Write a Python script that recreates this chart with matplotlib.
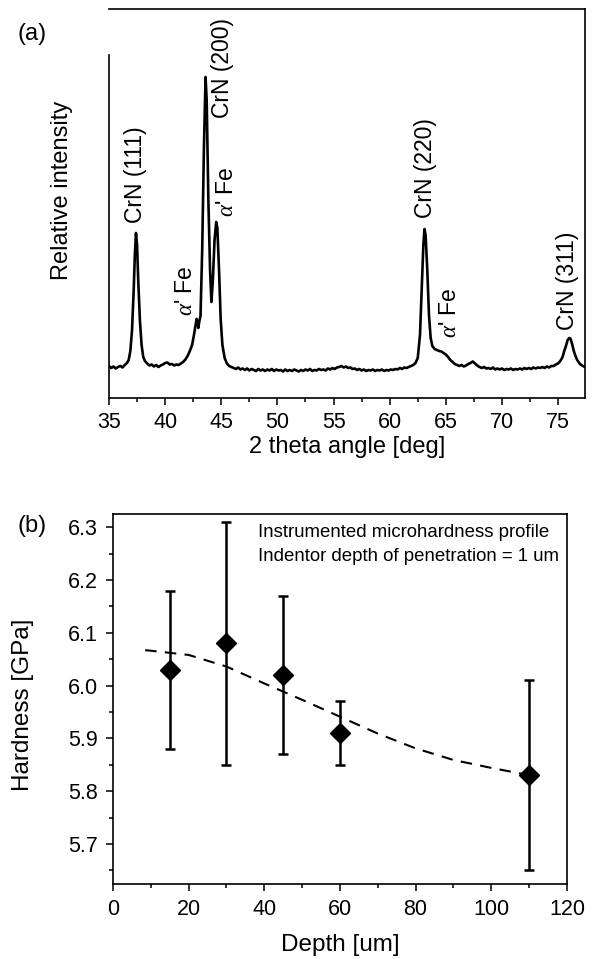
import matplotlib
matplotlib.use("Agg")
import matplotlib.pyplot as plt
from matplotlib.ticker import MultipleLocator

plt.rcParams["font.family"] = ["Liberation Sans", "DejaVu Sans"]
plt.rcParams["mathtext.fontset"] = "custom"
plt.rcParams["mathtext.rm"] = "Liberation Sans"
plt.rcParams["mathtext.it"] = "Liberation Serif:italic"

# (a) XRD pattern (arbitrary intensity units)
two_theta = [
    35.0, 35.2, 35.4, 35.6, 35.8, 36.0, 36.2, 36.4, 36.6,
    36.75, 36.9, 37.05, 37.2, 37.3, 37.4, 37.5, 37.6, 37.75, 37.9, 38.05, 38.2,
    38.4, 38.6, 38.8, 39.0, 39.2, 39.4, 39.6, 39.8, 40.0, 40.2, 40.4, 40.6, 40.8,
    41.0, 41.2, 41.4, 41.6, 41.8, 42.0, 42.2, 42.4, 42.55, 42.7, 42.8, 42.9,
    42.95, 43.05, 43.15, 43.3, 43.45, 43.6, 43.7, 43.85, 44.0, 44.12, 44.25,
    44.4, 44.55, 44.65, 44.8, 44.95, 45.1, 45.3, 45.5, 45.7, 45.9,
    46.1, 46.3, 46.5, 46.7, 46.9, 47.1, 47.3, 47.5, 47.7, 47.9, 48.1, 48.3,
    48.5, 48.7, 48.9, 49.1, 49.3, 49.5, 49.7, 49.9, 50.1, 50.3, 50.5, 50.7,
    50.9, 51.1, 51.3, 51.5, 51.7, 51.9, 52.1, 52.3, 52.5, 52.7, 52.9, 53.1,
    53.3, 53.5, 53.7, 53.9, 54.1, 54.3, 54.5, 54.7, 54.9, 55.1, 55.3, 55.5,
    55.7, 55.9, 56.1, 56.3, 56.5, 56.7, 56.9, 57.1, 57.3, 57.5, 57.7, 57.9,
    58.1, 58.3, 58.5, 58.7, 58.9, 59.1, 59.3, 59.5, 59.7, 59.9, 60.1, 60.3,
    60.5, 60.7, 60.9, 61.1, 61.3, 61.5, 61.7, 61.9, 62.1, 62.3,
    62.5, 62.7, 62.85, 63.0, 63.1, 63.2, 63.35, 63.5, 63.65, 63.8, 64.0, 64.2,
    64.4, 64.6, 64.8, 65.0, 65.2, 65.4, 65.6, 65.8, 66.0, 66.2, 66.4, 66.6,
    66.8, 67.0, 67.2, 67.4, 67.6, 67.8, 68.0, 68.2, 68.4, 68.6, 68.8, 69.0,
    69.2, 69.4, 69.6, 69.8, 70.0, 70.2, 70.4, 70.6, 70.8, 71.0, 71.2, 71.4,
    71.6, 71.8, 72.0, 72.2, 72.4, 72.6, 72.8, 73.0, 73.2, 73.4, 73.6, 73.8,
    74.0, 74.2, 74.4, 74.6, 74.8, 75.0, 75.2, 75.4, 75.55, 75.7, 75.85, 76.0,
    76.1, 76.25, 76.4, 76.55, 76.7, 76.85, 77.0, 77.2, 77.4,
]
intensity = [
    320, 300, 315, 295, 310, 320, 305, 330, 350,
    380, 470, 680, 1080, 1430, 1650, 1530, 1180, 780, 530, 410, 370,
    345, 325, 335, 315, 330, 310, 325, 335, 350, 355, 335, 340, 325,
    335, 330, 345, 360, 385, 420, 470, 530, 620, 720, 790, 760,
    700, 770, 820, 1480, 2480, 3210, 2980, 1980, 1280, 960, 1180,
    1580, 1760, 1700, 1280, 780, 530, 400, 345, 320, 310,
    300, 290, 305, 285, 295, 280, 295, 275, 290, 280, 270, 290,
    275, 285, 270, 285, 275, 290, 270, 285, 275, 280, 265, 285,
    270, 280, 270, 285, 275, 265, 280, 270, 285, 275, 290, 270,
    280, 275, 290, 280, 285, 275, 295, 285, 300, 290, 305, 310,
    320, 305, 315, 300, 305, 290, 295, 280, 290, 275, 285, 270,
    280, 275, 285, 270, 280, 275, 285, 270, 280, 275, 285, 280,
    290, 285, 300, 290, 305, 300, 310, 320, 330, 350,
    400, 630, 1080, 1530, 1690, 1630, 1280, 830, 600, 520, 490, 480,
    470, 465, 450, 435, 410, 380, 360, 340, 330, 320, 330, 315,
    325, 340, 350, 365, 345, 325, 310, 300, 310, 295, 300, 290,
    305, 285, 295, 285, 295, 280, 290, 285, 295, 280, 290, 285,
    295, 285, 300, 290, 300, 290, 305, 295, 305, 300, 310, 300,
    315, 305, 320, 320, 335, 345, 370, 410, 470, 520, 580, 600,
    595, 540, 470, 420, 380, 355, 335, 320, 310,
]

peak_labels = ["CrN (111)", r"$\alpha$' Fe", "CrN (200)", r"$\alpha$' Fe",
               "CrN (220)", r"$\alpha$' Fe", "CrN (311)"]
peak_label_x = [37.4, 41.8, 45.1, 45.5, 63.2, 65.3, 75.8]
peak_label_y = [1750, 820, 2800, 1810, 1800, 600, 680]

# (b) hardness profile
depth = [15, 30, 45, 60, 110]
hardness = [6.03, 6.08, 6.02, 5.91, 5.83]
err_low = [0.15, 0.23, 0.15, 0.06, 0.18]
err_high = [0.15, 0.23, 0.15, 0.06, 0.18]

trend_depth = [8.5, 10, 20, 30, 40, 50, 60, 70, 80, 90, 100, 109.5]
trend_hardness = [6.067, 6.066, 6.058, 6.036, 6.004, 5.973, 5.941, 5.909,
                  5.881, 5.859, 5.844, 5.831]

fig = plt.figure(figsize=(5.98, 9.59), dpi=100)

# ---- panel (a)
ax1 = fig.add_axes([0.1823, 0.585, 0.796, 0.4056])
ax1.plot(two_theta, intensity, color="black", lw=1.9)
ax1.set_xlim(35, 77.4)
ax1.set_ylim(0, 3890)
ax1.spines["left"].set_bounds(0, 3430)
for s in ax1.spines.values():
    s.set_linewidth(1.2)
ax1.set_yticks([])
ax1.xaxis.set_major_locator(MultipleLocator(5))
ax1.xaxis.set_minor_locator(MultipleLocator(2.5))
ax1.tick_params(axis="x", which="major", direction="out", length=5, width=1.1,
                labelsize=15.5, pad=5)
ax1.tick_params(axis="x", which="minor", direction="out", length=3, width=1.1)
ax1.set_xlabel("2 theta angle [deg]", fontsize=17, labelpad=2)
ax1.set_ylabel("Relative intensity", fontsize=17)
ax1.yaxis.set_label_coords(-0.075, 0.535)
for lab, x, y in zip(peak_labels, peak_label_x, peak_label_y):
    ax1.text(x, y, lab, rotation=90, ha="center", va="bottom", fontsize=16.5)
fig.text(0.03, 0.965, "(a)", fontsize=17, ha="left", va="center")

# ---- panel (b)
ax2 = fig.add_axes([0.189, 0.0782, 0.759, 0.3858])
ax2.plot(trend_depth, trend_hardness, color="black", lw=1.5, ls=(0, (5.5, 4)))
ax2.errorbar(depth, hardness, yerr=[err_low, err_high], fmt="D", color="black",
             markersize=10, elinewidth=1.8, capsize=3.5, capthick=1.8)
ax2.set_xlim(0, 120)
ax2.set_ylim(5.624, 6.325)
for s in ax2.spines.values():
    s.set_linewidth(1.2)
ax2.xaxis.set_major_locator(MultipleLocator(20))
ax2.xaxis.set_minor_locator(MultipleLocator(10))
ax2.yaxis.set_major_locator(MultipleLocator(0.1))
ax2.yaxis.set_minor_locator(MultipleLocator(0.05))
ax2.tick_params(which="major", direction="out", length=5, width=1.1,
                labelsize=15.5, pad=6)
ax2.tick_params(which="minor", direction="out", length=3, width=1.1)
ax2.set_xlabel("Depth [um]", fontsize=17.5, labelpad=10)
ax2.set_ylabel("Hardness [GPa]", fontsize=17.5)
ax2.yaxis.set_label_coords(-0.175, 0.484)
ax2.text(0.32, 0.949, "Instrumented microhardness profile", transform=ax2.transAxes,
         ha="left", va="center", fontsize=13.4)
ax2.text(0.32, 0.884, "Indentor depth of penetration = 1 um", transform=ax2.transAxes,
         ha="left", va="center", fontsize=13.4)
fig.text(0.03, 0.451, "(b)", fontsize=17, ha="left", va="center")

fig.savefig("out.png", dpi=100)
